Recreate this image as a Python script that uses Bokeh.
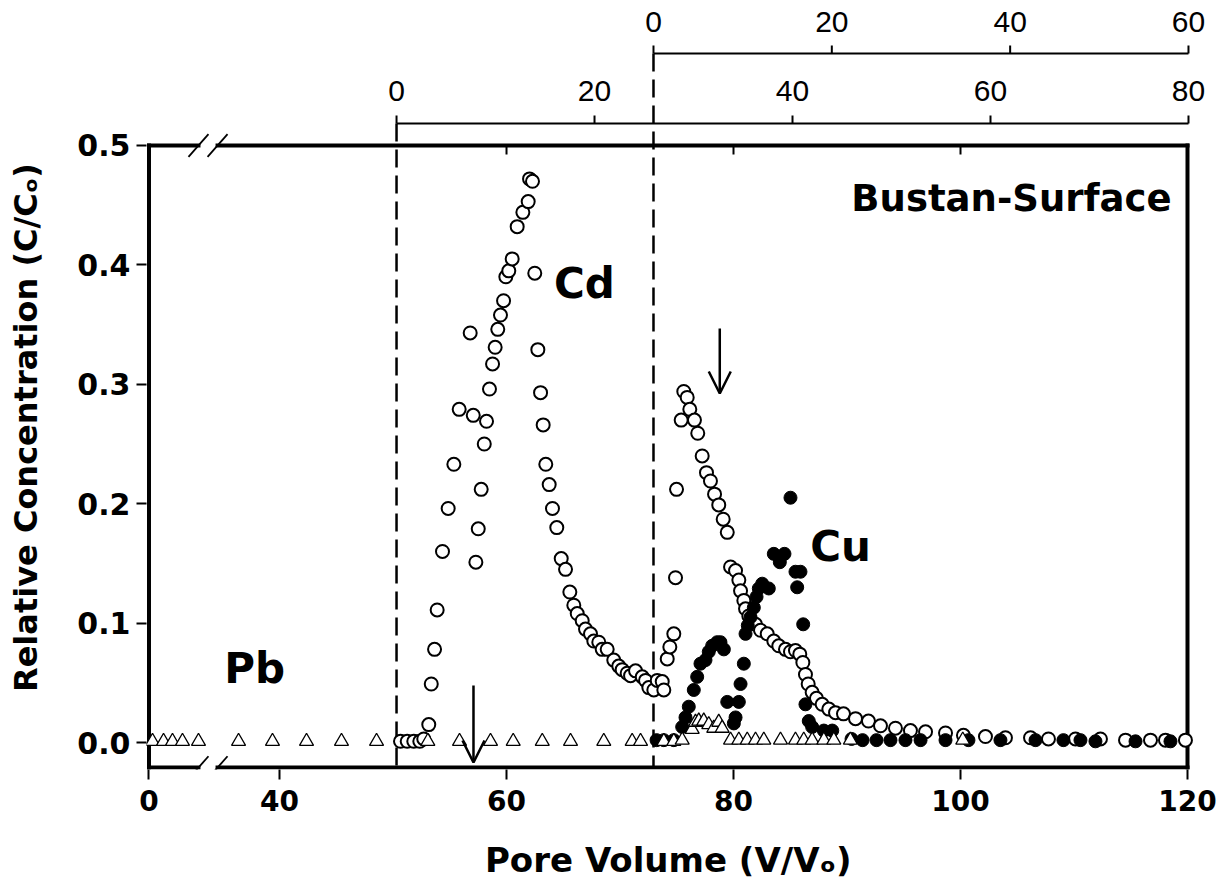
import math
from bokeh.plotting import figure
from bokeh.layouts import row, column
from bokeh.models import Range1d, FixedTicker, Arrow, OpenHead, CustomJSTickFormatter
from bokeh.core.properties import value
from bokeh.embed import file_html
from bokeh.resources import INLINE

# ---------------- data ----------------
cd_x = [50.66, 51.25, 51.83, 52.36, 52.71, 53.15, 53.37, 53.66, 53.89, 54.36, 54.86, 55.36, 55.83,
        56.80, 57.07, 57.30, 57.51, 57.77, 58.04, 58.24, 58.50, 58.77, 59.00, 59.23, 59.47, 59.74,
        59.94, 60.20, 60.50, 60.94, 61.44, 61.91, 62.03, 62.29, 62.49, 62.76, 63.00, 63.23, 63.46,
        63.76, 64.05, 64.43, 64.82, 65.20, 65.58, 65.93, 66.23, 66.67, 66.96, 67.40, 67.69, 68.13,
        68.43, 68.87, 69.45, 69.89, 70.19, 70.63, 70.93, 71.37, 71.96, 72.25, 72.54, 72.98, 73.28,
        73.72, 73.86, 74.16, 74.39, 74.74, 74.89, 74.98, 75.39, 75.62, 75.92, 76.15, 76.56, 76.85,
        77.24, 77.62, 77.97, 78.33, 78.70, 79.09, 79.45, 79.74, 80.18, 80.47, 80.62, 80.91, 81.06,
        81.35, 81.94, 82.38, 82.97, 83.55, 83.99, 84.58, 85.02, 85.46, 85.84, 86.11, 86.34, 86.58,
        86.93, 87.31, 87.81, 88.40, 88.99, 89.69, 90.75, 91.89, 92.95, 94.27, 95.59, 96.92, 98.68,
        100.26, 102.20, 103.96, 106.17, 107.75, 110.13, 112.33, 114.54, 116.74, 118.06, 119.82]
cd_y = [0.001, 0.001, 0.001, 0.001, 0.003, 0.015, 0.049, 0.078, 0.111, 0.160, 0.196, 0.233, 0.279,
        0.343, 0.274, 0.151, 0.179, 0.212, 0.250, 0.269, 0.296, 0.317, 0.331, 0.346, 0.358, 0.370,
        0.390, 0.395, 0.405, 0.432, 0.444, 0.453, 0.472, 0.470, 0.393, 0.329, 0.293, 0.266, 0.233,
        0.216, 0.196, 0.180, 0.154, 0.145, 0.126, 0.115, 0.108, 0.102, 0.095, 0.091, 0.085, 0.084,
        0.078, 0.078, 0.069, 0.064, 0.061, 0.058, 0.056, 0.060, 0.055, 0.052, 0.046, 0.044, 0.052,
        0.051, 0.044, 0.070, 0.080, 0.091, 0.138, 0.212, 0.270, 0.294, 0.289, 0.279, 0.270, 0.259,
        0.240, 0.226, 0.219, 0.208, 0.199, 0.187, 0.176, 0.147, 0.144, 0.136, 0.127, 0.119, 0.112,
        0.106, 0.099, 0.094, 0.091, 0.085, 0.081, 0.078, 0.076, 0.077, 0.074, 0.067, 0.057, 0.049,
        0.042, 0.037, 0.032, 0.028, 0.025, 0.024, 0.020, 0.018, 0.014, 0.012, 0.010, 0.009, 0.008,
        0.006, 0.005, 0.004, 0.004, 0.003, 0.003, 0.003, 0.002, 0.002, 0.002, 0.002]

cu_x = [73.22, 73.86, 74.74, 75.48, 75.77, 76.06, 76.50, 76.80, 77.09, 77.53, 77.82, 78.12, 78.56,
        78.85, 79.15, 79.45, 80.47, 80.18, 80.03, 80.62, 80.91, 81.06, 81.26, 81.50, 81.79, 82.03,
        82.23, 82.53, 83.11, 83.55, 84.08, 84.49, 85.02, 85.46, 85.90, 85.61, 86.14, 86.34, 86.63,
        86.93, 87.96, 88.70, 90.40, 91.37, 92.60, 93.83, 95.15, 96.48, 98.68, 100.70, 103.52,
        106.61, 109.07, 110.57, 111.89, 115.42, 118.50]
cu_y = [0.002, 0.002, 0.002, 0.013, 0.021, 0.030, 0.044, 0.055, 0.066, 0.069, 0.076, 0.081, 0.084,
        0.084, 0.078, 0.034, 0.034, 0.021, 0.016, 0.049, 0.066, 0.091, 0.098, 0.105, 0.113, 0.122,
        0.129, 0.133, 0.129, 0.158, 0.151, 0.158, 0.205, 0.143, 0.143, 0.130, 0.099, 0.032, 0.018,
        0.013, 0.010, 0.010, 0.003, 0.002, 0.002, 0.002, 0.002, 0.002, 0.002, 0.002, 0.002,
        0.002, 0.002, 0.002, 0.001, 0.001, 0.001]

pb_x = [28.81, 29.78, 30.57, 31.45, 32.86, 36.39, 39.38, 42.38, 45.46, 48.55, 53.07, 55.86, 58.59,
        60.59, 63.15, 65.64, 68.57, 71.07, 71.81, 73.86, 74.74, 75.48, 76.36, 76.65, 76.94, 77.38,
        77.82, 78.26, 78.70, 79.00, 79.74, 80.47, 81.21, 81.94, 82.67, 84.14, 85.46, 86.19, 86.93,
        87.96, 88.84, 90.30, 100.20]
pb_y = [0.001, 0.001, 0.001, 0.001, 0.001, 0.001, 0.001, 0.001, 0.001, 0.001, 0.001, 0.001, 0.001,
        0.001, 0.001, 0.001, 0.001, 0.001, 0.001, 0.001, 0.001, 0.002, 0.011, 0.017, 0.018, 0.018,
        0.015, 0.012, 0.017, 0.012, 0.002, 0.002, 0.002, 0.002, 0.002, 0.002, 0.002, 0.002, 0.002,
        0.002, 0.002, 0.002, 0.002]

x_ticks = [28.5, 40, 60, 80, 100, 120]          # first tick is the broken-axis origin, shown as "0"
y_ticks = [0.0, 0.1, 0.2, 0.3, 0.4, 0.5]
top1_ticks = [0, 20, 40, 60, 80]
top2_ticks = [0, 20, 40, 60]
top_frame_ticks = [60, 80, 100]
series_names = ["Cd", "Cu", "Pb"]
series_label_x = [66.87, 89.43, 37.80]
series_label_y = [0.384, 0.164, 0.062]
panel_title = "Bustan-Surface"
x_title = "Pore Volume (V/V\u2092)"
y_title = "Relative Concentration (C/C\u2092)"

# ---------------- geometry ----------------
PX_PER_X, PX_PER_Y = 11.35, 1194.0
LEFT_W, MAIN_W, MAIN_H, BOT_H = 45, 1174, 830, 60
X0, X1 = 28.28, 122.82
Y0, Y1 = -0.0226, 0.6214
F_L, F_R, F_T, F_B = 28.5, 120.0, 0.5, -0.021       # frame box
BREAK_A, BREAK_B = 32.86, 34.54                      # axis break
T1_OFF, T1_K = 50.31, 1.1465                         # top axis 1 (zero, units per main unit)
T2_OFF, T2_K = 72.95, 1.2729                         # top axis 2
T1_Y, T2_Y = 0.5184, 0.577
T1_LBL, T2_LBL = 0.0275, 0.026
TICK_H = 0.0067

FONT_B = "DejaVu Sans"

yr = Range1d(Y0, Y1)
p = figure(width=MAIN_W, height=MAIN_H, x_range=Range1d(X0, X1), y_range=yr,
           output_backend="svg", toolbar_location=None,
           min_border_left=101, min_border_right=0, min_border_top=0, min_border_bottom=61)
p.extra_x_ranges = {
    "top1": Range1d((X0 - T1_OFF) * T1_K, (X1 - T1_OFF) * T1_K),
    "top2": Range1d((X0 - T2_OFF) * T2_K, (X1 - T2_OFF) * T2_K),
}
p.background_fill_color = "white"
p.border_fill_color = "white"
p.outline_line_color = None
p.grid.visible = False

# axes
p.xaxis.ticker = FixedTicker(ticks=x_ticks)
p.xaxis.formatter = CustomJSTickFormatter(code="return tick < 30 ? '0' : tick.toFixed(0);")
p.yaxis.ticker = FixedTicker(ticks=y_ticks)
p.yaxis.formatter = CustomJSTickFormatter(code="return tick.toFixed(1);")
for ax in (p.xaxis, p.yaxis):
    ax.axis_line_color = None
    ax.minor_tick_line_color = None
    ax.major_tick_in = 0
    ax.major_tick_out = 10
    ax.major_tick_line_width = 2
    ax.major_tick_line_color = "black"
    ax.major_label_text_font = FONT_B
    ax.major_label_text_font_style = "bold"
    ax.major_label_text_color = "black"
p.xaxis.major_label_text_font_size = "28px"
p.yaxis.major_label_text_font_size = "30px"
p.xaxis.major_label_standoff = 10
p.yaxis.major_label_standoff = 6

# frame with break
p.segment(x0=[F_L, F_R, F_L, BREAK_B, F_L, BREAK_B],
          y0=[F_B, F_B, F_T, F_T, F_B, F_B],
          x1=[F_L, F_R, BREAK_A, F_R, BREAK_A, F_R],
          y1=[F_T, F_T, F_T, F_T, F_B, F_B],
          line_color="black", line_width=4, line_cap="square")
p.segment(x0=top_frame_ticks, y0=[F_T] * len(top_frame_ticks), x1=top_frame_ticks,
          y1=[F_T - 0.0075] * len(top_frame_ticks), line_color="black", line_width=2)

# break marks
DX, DY = 0.88, 0.0095
for bx in (BREAK_A, BREAK_B):
    for by in (F_T, F_B):
        p.add_layout(Arrow(start=None, end=None, x_start=bx - DX, y_start=by - DY,
                           x_end=bx + DX, y_end=by + DY, line_color="black", line_width=1.8))

# top axes
for rname, ticks, ly, lo in (("top1", top1_ticks, T1_Y, T1_LBL), ("top2", top2_ticks, T2_Y, T2_LBL)):
    p.segment(x0=[ticks[0]], y0=[ly], x1=[ticks[-1]], y1=[ly], x_range_name=rname,
              line_color="black", line_width=2)
    p.segment(x0=ticks, y0=[ly] * len(ticks), x1=ticks, y1=[ly + TICK_H] * len(ticks),
              x_range_name=rname, line_color="black", line_width=2)
    p.text(x=ticks, y=[ly + lo] * len(ticks), text=[str(t) for t in ticks], x_range_name=rname,
           text_align="center", text_baseline="middle", text_font=value("Liberation Sans"),
           text_font_size="30px", text_color="black")
    # dashed boundary at zero of each top axis
    p.segment(x0=[0], y0=[ly], x1=[0], y1=[F_B], x_range_name=rname,
              line_color="black", line_width=2.5, line_dash="18 8")

# series
p.scatter(cd_x, cd_y, marker="circle", size=13, fill_color="white", line_color="black", line_width=2)
p.scatter(cu_x, cu_y, marker="circle", size=13, fill_color="black", line_color="black", line_width=1)
p.scatter(pb_x, pb_y, marker="triangle", size=14, fill_color="white", line_color="black", line_width=1.3)

# arrows
for ax_, y_s, y_e in ((57.09, 0.0477, -0.0167), (78.79, 0.3467, 0.2923)):
    p.add_layout(Arrow(end=OpenHead(size=22, line_width=2.5, line_color="black"),
                       x_start=ax_, y_start=y_s, x_end=ax_, y_end=y_e,
                       line_color="black", line_width=2.5))

# texts
p.text(x=series_label_x, y=series_label_y, text=series_names, text_align="center",
       text_baseline="middle", text_font=value(FONT_B), text_font_style="bold",
       text_font_size="42px", text_color="black")
p.text(x=[104.49], y=[0.456], text=[panel_title], text_align="center", text_baseline="middle",
       text_font=value(FONT_B), text_font_style="bold", text_font_size="37px", text_color="black")

# ---- left strip: y-axis title (frame is aligned with the main plot, shared y range) ----
left = figure(width=LEFT_W, height=MAIN_H, x_range=Range1d(0, LEFT_W), y_range=yr,
              x_axis_type=None, y_axis_type=None,
              output_backend="svg", toolbar_location=None, min_border=0)
left.outline_line_color = None
left.grid.visible = False
left.text(x=[25], y=[(F_T + 0.0276) / 2], text=[y_title], angle=math.pi / 2,
          text_align="center", text_baseline="middle", text_font=value(FONT_B),
          text_font_style="bold", text_font_size="32px", text_color="black")

# ---- bottom strip: x-axis title (same horizontal scale as the main plot) ----
bx0 = X0 - (LEFT_W + 101) / PX_PER_X
bottom = figure(width=LEFT_W + MAIN_W, height=BOT_H, x_range=Range1d(bx0, bx0 + (LEFT_W + MAIN_W) / PX_PER_X),
                y_range=Range1d(0, BOT_H), x_axis_type=None, y_axis_type=None,
                output_backend="svg", toolbar_location=None, min_border=0)
bottom.outline_line_color = None
bottom.grid.visible = False
bottom.text(x=[(F_L + F_R) / 2], y=[31], text=[x_title], text_align="center",
            text_baseline="middle", text_font=value(FONT_B), text_font_style="bold",
            text_font_size="34px", text_color="black")

layout = column(row(left, p, spacing=0), bottom, spacing=0)
open("out.html", "w").write(file_html(layout, INLINE))
